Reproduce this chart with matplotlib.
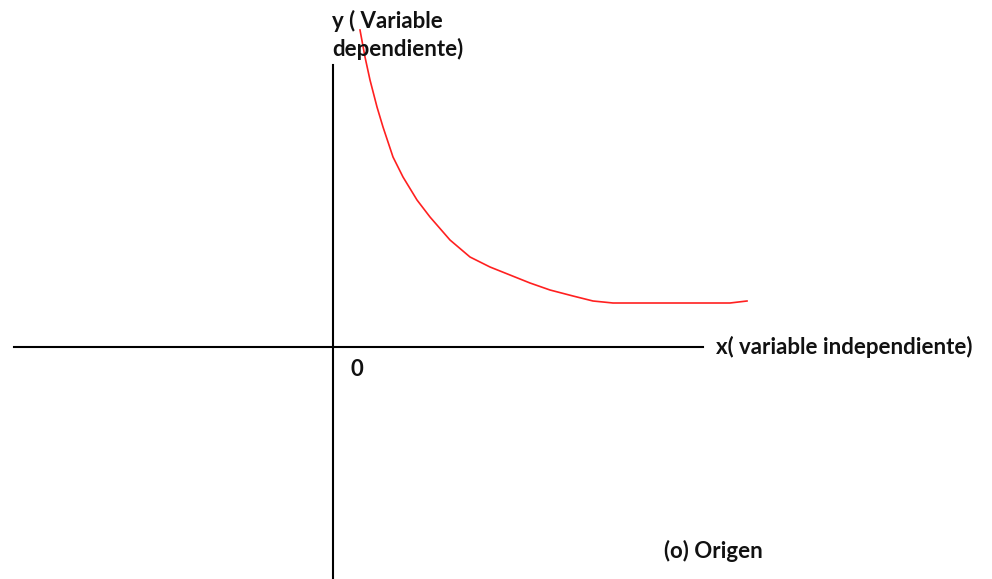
import matplotlib
matplotlib.use("Agg")
import matplotlib.pyplot as plt

# curva (unidades relativas al origen, y hacia arriba)
curva_x = [27, 32, 37, 44, 50, 60, 70, 84, 97, 117, 137, 157, 177, 197, 217, 240, 260, 280, 397, 414]
curva_y = [317, 290, 267, 240, 220, 190, 170, 147, 130, 107, 90, 80, 72, 64, 57, 51, 46, 44, 44, 46]

eje_x = [-319, 370]
eje_y = [-232, 282]

etiqueta_y = "y ( Variable\ndependiente)"
etiqueta_x = "x( variable independiente)"
etiqueta_cero = "0"
etiqueta_origen = "(o) Origen"

fig = plt.figure(figsize=(9.92, 5.79), dpi=100)
ax = fig.add_axes([0, 0, 1, 1])
ax.set_xlim(-333, 992 - 333)
ax.set_ylim(347 - 579, 347)
ax.axis('off')

fuente = dict(family='Lato', fontweight='bold', fontsize=16, color='#111111')

ax.plot(eje_x, [0, 0], color='black', lw=1.5)
ax.plot([0, 0], eje_y, color='black', lw=1.5)
ax.plot(curva_x, curva_y, color='#ff2020', lw=1.2)

ax.text(-1, 312, etiqueta_y, ha='left', va='center', linespacing=1.35, **fuente)
ax.text(383, 0, etiqueta_x, ha='left', va='center', **fuente)
ax.text(24, -23, etiqueta_cero, ha='center', va='center', **fuente)
ax.text(331, -204, etiqueta_origen, ha='left', va='center', **fuente)

fig.savefig('out.png', dpi=100)
